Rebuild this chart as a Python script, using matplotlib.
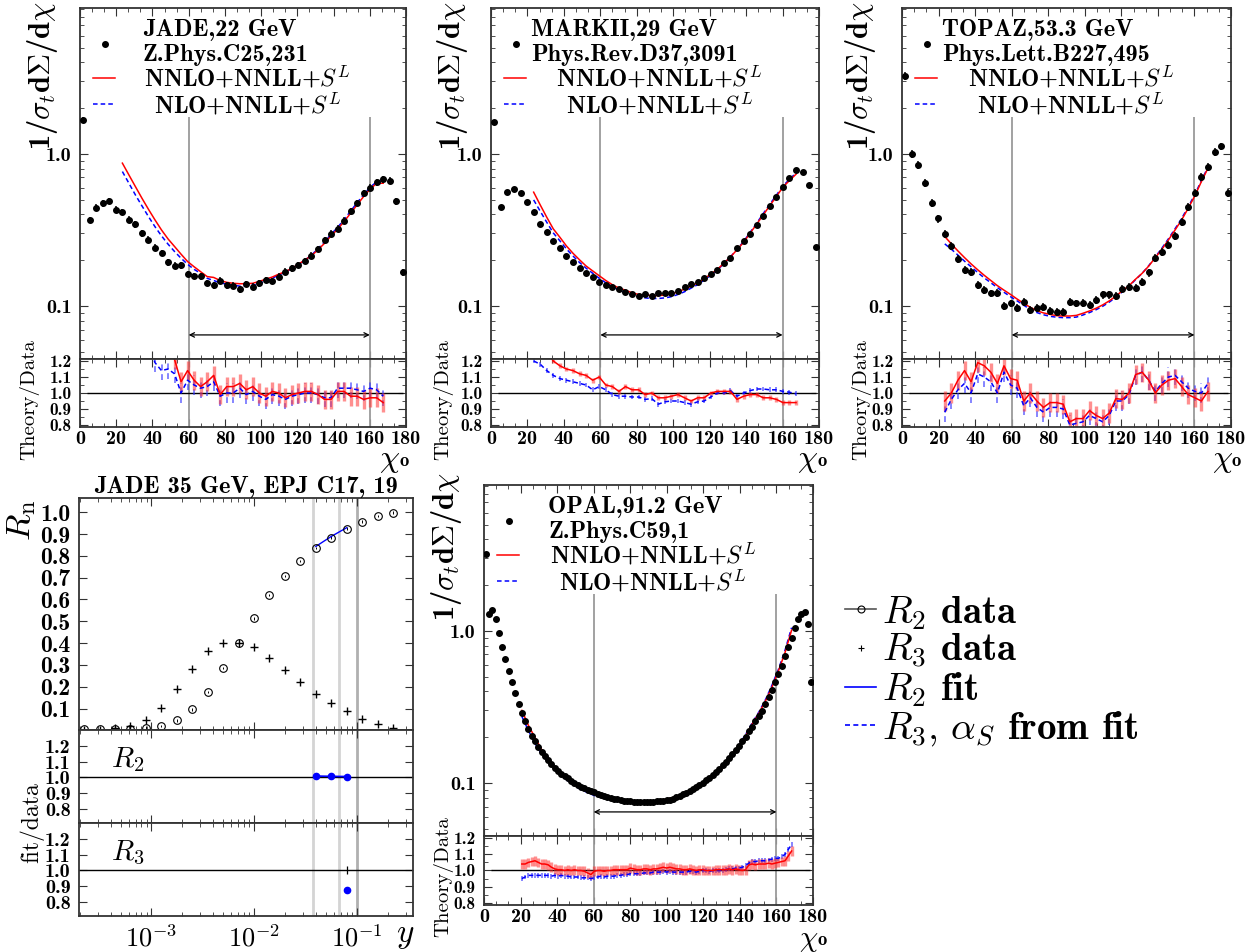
import numpy as np
import matplotlib
matplotlib.use("Agg")
import matplotlib.pyplot as plt
from matplotlib.lines import Line2D
from matplotlib.ticker import (MultipleLocator, FixedLocator, LogLocator,
                               FuncFormatter, NullFormatter)

plt.rcParams['font.family'] = ['cmb10']
plt.rcParams['mathtext.fontset'] = 'cm'
plt.rcParams['axes.unicode_minus'] = False

# ---------------------------------------------------------------- data
# energy-energy correlation, 3.6 deg bins (JADE 22, MARKII 29, TOPAZ 53.3)
bins_36 = np.linspace(1.8, 178.2, 50)
theory_bins_36 = np.linspace(23.4, 167.4, 41)

jade22_data = [1.67, 0.368, 0.443, 0.474, 0.491, 0.430, 0.415, 0.370, 0.344, 0.301,
               0.273, 0.242, 0.223, 0.194, 0.184, 0.185, 0.162, 0.158, 0.157, 0.142,
               0.137, 0.147, 0.137, 0.136, 0.129, 0.140, 0.134, 0.141, 0.148, 0.146,
               0.156, 0.168, 0.177, 0.186, 0.198, 0.214, 0.237, 0.270, 0.299, 0.323,
               0.364, 0.420, 0.476, 0.551, 0.600, 0.651, 0.681, 0.668, 0.489, 0.166]
jade22_nnlo = [0.869, 0.727, 0.609, 0.511, 0.432, 0.368, 0.316, 0.276, 0.246, 0.219,
               0.196, 0.181, 0.168, 0.156, 0.154, 0.147, 0.143, 0.141, 0.140, 0.140,
               0.141, 0.145, 0.150, 0.155, 0.162, 0.168, 0.177, 0.188, 0.201, 0.214,
               0.234, 0.258, 0.289, 0.319, 0.359, 0.407, 0.462, 0.524, 0.586, 0.641,
               0.641]
jade22_nlo = [0.765, 0.641, 0.537, 0.455, 0.387, 0.332, 0.289, 0.255, 0.228, 0.206,
              0.188, 0.174, 0.164, 0.152, 0.147, 0.142, 0.139, 0.137, 0.135, 0.135,
              0.137, 0.140, 0.147, 0.152, 0.160, 0.167, 0.176, 0.187, 0.200, 0.216,
              0.238, 0.264, 0.296, 0.328, 0.370, 0.420, 0.477, 0.540, 0.604, 0.655,
              0.668]
jade22_ratio_nnlo = [2.09, 1.96, 1.77, 1.70, 1.58, 1.52, 1.42, 1.30, 1.21, 1.07,
                     1.14, 1.08, 1.04, 1.07, 1.11, 0.99, 1.04, 1.04, 1.06, 1.02,
                     1.04, 1.00, 0.98, 1.01, 1.00, 0.97, 0.99, 1.00, 1.01, 1.01,
                     0.99, 0.96, 0.96, 1.01, 1.01, 0.98, 0.98, 0.96, 0.97, 0.97,
                     0.94]
jade22_ratio_nlo = [1.84, 1.73, 1.56, 1.45, 1.30, 1.19, 1.14, 1.15, 1.12, 1.00,
                    1.08, 1.05, 1.03, 1.04, 1.07, 0.98, 1.00, 1.00, 1.03, 0.99,
                    1.01, 0.98, 0.96, 0.99, 0.98, 0.96, 0.98, 0.99, 1.00, 1.00,
                    0.99, 0.97, 0.97, 1.03, 1.03, 1.03, 1.02, 1.01, 1.03, 1.02,
                    0.98]

markii_data = [1.63, 0.450, 0.562, 0.586, 0.557, 0.486, 0.415, 0.344, 0.305, 0.268,
               0.241, 0.214, 0.194, 0.179, 0.165, 0.156, 0.143, 0.137, 0.133, 0.129,
               0.123, 0.120, 0.117, 0.119, 0.116, 0.122, 0.121, 0.121, 0.125, 0.133,
               0.139, 0.143, 0.153, 0.162, 0.173, 0.191, 0.208, 0.242, 0.268, 0.299,
               0.340, 0.391, 0.457, 0.524, 0.609, 0.699, 0.781, 0.762, 0.628, 0.243]
markii_nnlo = [0.560, 0.462, 0.383, 0.321, 0.283, 0.248, 0.222, 0.201, 0.183, 0.170,
               0.158, 0.147, 0.138, 0.131, 0.127, 0.122, 0.119, 0.118, 0.117, 0.117,
               0.118, 0.120, 0.124, 0.129, 0.135, 0.142, 0.151, 0.162, 0.174, 0.191,
               0.210, 0.234, 0.262, 0.301, 0.345, 0.397, 0.457, 0.524, 0.604, 0.668,
               0.735]
markii_nlo = [0.498, 0.420, 0.355, 0.302, 0.268, 0.237, 0.213, 0.193, 0.177, 0.164,
              0.152, 0.142, 0.134, 0.127, 0.122, 0.118, 0.115, 0.113, 0.112, 0.112,
              0.113, 0.115, 0.119, 0.124, 0.131, 0.138, 0.148, 0.159, 0.172, 0.190,
              0.210, 0.236, 0.265, 0.305, 0.350, 0.405, 0.466, 0.535, 0.615, 0.680,
              0.750]
markii_ratio_nnlo = [1.35, 1.34, 1.26, 1.20, 1.17, 1.15, 1.14, 1.12, 1.11, 1.08,
                     1.10, 1.05, 1.04, 1.01, 1.04, 1.02, 1.02, 0.99, 1.00, 0.97,
                     0.97, 0.98, 0.99, 0.97, 0.95, 0.97, 0.97, 1.00, 1.01, 1.01,
                     1.01, 0.96, 0.98, 0.99, 0.99, 0.97, 0.97, 0.96, 0.94, 0.94,
                     0.94]
markii_ratio_nlo = [1.20, 1.18, 1.14, 1.11, 1.09, 1.08, 1.07, 1.06, 1.05, 1.02,
                    1.04, 1.02, 0.99, 0.98, 0.98, 0.975, 0.975, 0.96, 0.965, 0.93,
                    0.945, 0.95, 0.95, 0.94, 0.93, 0.945, 0.95, 0.975, 1.00, 1.00,
                    1.015, 0.98, 1.00, 1.015, 1.025, 1.025, 1.02, 1.02, 1.01, 1.005,
                    0.995]

topaz_data = [3.26, 0.995, 0.843, 0.641, 0.474, 0.376, 0.298, 0.248, 0.203, 0.173,
              0.167, 0.137, 0.127, 0.121, 0.122, 0.1005, 0.104, 0.0975, 0.106, 0.094,
              0.0975, 0.099, 0.0927, 0.0918, 0.0914, 0.106, 0.104, 0.1047, 0.1016, 0.1095,
              0.119, 0.119, 0.117, 0.129, 0.134, 0.132, 0.143, 0.166, 0.207, 0.226,
              0.252, 0.289, 0.359, 0.450, 0.557, 0.702, 0.825, 1.03, 1.12, 0.554]
topaz_nnlo = [0.286, 0.256, 0.230, 0.208, 0.189, 0.173, 0.159, 0.147, 0.136, 0.127,
              0.119, 0.111, 0.104, 0.098, 0.093, 0.090, 0.088, 0.0863, 0.0859, 0.0859,
              0.0867, 0.0895, 0.0927, 0.0966, 0.1016, 0.108, 0.116, 0.126, 0.136, 0.150,
              0.164, 0.183, 0.208, 0.236, 0.272, 0.316, 0.368, 0.439, 0.529, 0.657,
              0.805]
topaz_nlo = [0.256, 0.236, 0.216, 0.197, 0.181, 0.166, 0.153, 0.142, 0.132, 0.123,
             0.115, 0.108, 0.101, 0.095, 0.0905, 0.0875, 0.0855, 0.0843, 0.0838, 0.0838,
             0.0845, 0.0872, 0.0905, 0.0945, 0.0995, 0.106, 0.114, 0.124, 0.135, 0.149,
             0.164, 0.184, 0.210, 0.240, 0.277, 0.322, 0.376, 0.449, 0.540, 0.668,
             0.818]
topaz_ratio_nnlo = [0.95, 1.00, 1.08, 1.14, 1.07, 1.19, 1.17, 1.13, 1.06, 1.17,
                    1.09, 1.08, 0.95, 1.00, 0.95, 0.91, 0.94, 0.94, 0.93, 0.82,
                    0.84, 0.84, 0.89, 0.86, 0.84, 0.875, 0.965, 0.96, 1.00, 1.115,
                    1.13, 1.08, 1.00, 1.05, 1.08, 1.09, 1.04, 0.99, 0.97, 0.95,
                    1.01]
topaz_ratio_nlo = [0.88, 0.96, 1.02, 1.06, 1.00, 1.12, 1.10, 1.07, 1.00, 1.13,
                   1.05, 1.03, 0.92, 0.97, 0.91, 0.88, 0.91, 0.91, 0.90, 0.80,
                   0.81, 0.82, 0.86, 0.84, 0.82, 0.86, 0.95, 0.95, 0.99, 1.11,
                   1.13, 1.08, 1.01, 1.06, 1.10, 1.11, 1.07, 1.03, 1.01, 1.00,
                   1.06]

# OPAL 91.2 GeV, 1.8 deg bins
bins_18 = np.linspace(0.9, 179.1, 100)
opal_theory_bins = np.linspace(20.7, 168.3, 42)
opal_ratio_bins = np.linspace(20.7, 168.3, 83)

opal_data = [3.2, 1.29, 1.37, 1.19, 0.966, 0.789, 0.656, 0.547, 0.459, 0.389,
             0.331, 0.288, 0.255, 0.228, 0.205, 0.188, 0.172, 0.160, 0.150, 0.141,
             0.133, 0.126, 0.120, 0.115, 0.1106, 0.107, 0.103, 0.100, 0.097, 0.0947,
             0.0925, 0.0905, 0.0885, 0.0866, 0.0850, 0.0835, 0.0822, 0.0810, 0.0799, 0.0789,
             0.0780, 0.0772, 0.0766, 0.0760, 0.0756, 0.0753, 0.0751, 0.0750, 0.0750, 0.0751,
             0.0752, 0.0754, 0.0757, 0.0760, 0.0765, 0.0771, 0.0778, 0.0790, 0.0805, 0.0822,
             0.0844, 0.0865, 0.0887, 0.0914, 0.0942, 0.0971, 0.1006, 0.1042, 0.1084, 0.1135,
             0.118, 0.124, 0.131, 0.137, 0.145, 0.154, 0.164, 0.176, 0.188, 0.202,
             0.218, 0.235, 0.254, 0.275, 0.299, 0.331, 0.366, 0.409, 0.459, 0.520,
             0.590, 0.679, 0.778, 0.904, 1.04, 1.19, 1.30, 1.33, 1.11, 0.459]
opal_nnlo = [0.300, 0.239, 0.199, 0.166, 0.146, 0.127, 0.1156, 0.1075, 0.1005, 0.0947,
             0.0891, 0.0862, 0.0835, 0.0810, 0.0793, 0.0776, 0.0764, 0.0761, 0.0754, 0.0759,
             0.0762, 0.0771, 0.0783, 0.0802, 0.0830, 0.0869, 0.0919, 0.0976, 0.1042, 0.1135,
             0.1246, 0.1377, 0.1548, 0.1769, 0.203, 0.244, 0.286, 0.344, 0.425, 0.546,
             0.720, 1.012]
opal_nlo = [0.274, 0.221, 0.182, 0.155, 0.137, 0.122, 0.1116, 0.1033, 0.0960, 0.0904,
            0.0864, 0.0827, 0.0806, 0.0782, 0.0761, 0.0749, 0.0741, 0.0738, 0.0735, 0.0740,
            0.0746, 0.0752, 0.0763, 0.0782, 0.0814, 0.0856, 0.0909, 0.0966, 0.1042, 0.1135,
            0.124, 0.1377, 0.1555, 0.1786, 0.208, 0.248, 0.2915, 0.351, 0.438, 0.559,
            0.747, 1.049]
opal_ratio_nnlo = [1.04, 1.04, 1.05, 1.055, 1.06, 1.05, 1.04, 1.04, 1.035, 1.02,
                   1.01, 1.005, 1.005, 1.0, 1.005, 1.0, 1.005, 1.0, 1.0, 0.995,
                   0.985, 0.975, 0.995, 1.0, 1.0, 0.995, 1.0, 1.0, 1.005, 1.005,
                   1.005, 1.005, 1.005, 1.015, 1.01, 1.005, 1.005, 1.01, 1.01, 1.005,
                   1.01, 1.01, 1.015, 1.02, 1.015, 1.02, 1.015, 1.01, 1.01, 1.005,
                   1.005, 1.01, 1.005, 1.0, 1.005, 1.005, 1.0, 1.0, 1.0, 1.005,
                   1.005, 1.005, 1.005, 1.01, 1.005, 1.01, 1.005, 1.0, 1.005, 1.035,
                   1.04, 1.035, 1.04, 1.04, 1.04, 1.045, 1.04, 1.045, 1.05, 1.055,
                   1.06, 1.09, 1.12]
opal_ratio_nlo = [0.95, 0.96, 0.97, 0.97, 0.97, 0.97, 0.97, 0.97, 0.97, 0.965,
                  0.97, 0.965, 0.97, 0.965, 0.965, 0.96, 0.96, 0.96, 0.955, 0.955,
                  0.955, 0.95, 0.955, 0.96, 0.965, 0.96, 0.965, 0.965, 0.965, 0.97,
                  0.97, 0.975, 0.975, 0.98, 0.98, 0.98, 0.98, 0.985, 0.985, 0.985,
                  0.99, 0.99, 0.99, 0.995, 0.99, 0.995, 0.99, 0.99, 0.99, 0.99,
                  0.99, 0.995, 0.995, 0.99, 0.995, 1.0, 1.0, 0.995, 1.0, 1.0,
                  1.0, 1.0, 1.005, 1.01, 1.01, 1.015, 1.015, 1.02, 1.03, 1.045,
                  1.055, 1.055, 1.06, 1.06, 1.06, 1.065, 1.07, 1.075, 1.075, 1.085,
                  1.10, 1.13, 1.16]

fit_range = (60, 160)

# JADE 35 GeV jet rates
jade35_ycut = [0.000221, 0.000313, 0.000442, 0.000625, 0.000884, 0.00125, 0.00177,
               0.0025, 0.00354, 0.005, 0.00707, 0.01, 0.0141, 0.02, 0.0283, 0.04,
               0.0566, 0.08, 0.113, 0.16, 0.226]
r2_data = [0.005, 0.005, 0.007, 0.008, 0.013, 0.020, 0.046, 0.097, 0.176, 0.286,
           0.401, 0.514, 0.620, 0.707, 0.777, 0.836, 0.884, 0.924, 0.956, 0.982, 0.998]
r3_data = [0.002, 0.004, 0.009, 0.020, 0.050, 0.103, 0.189, 0.282, 0.364, 0.399,
           0.402, 0.381, 0.331, 0.276, 0.222, 0.169, 0.124, 0.088, 0.054, 0.030, 0.013]
r2_fit_ycut = [0.04, 0.0566, 0.08]
r2_fit = [0.843, 0.889, 0.929]
r2_fit_ratio = [1.008, 1.006, 1.005]
r3_fit_ycut = [0.08]
r3_fit = [0.077]
r3_fit_ratio = [0.875]
r3_data_rel_err = [0.025]
ycut_lines = [0.0378, 0.0677, 0.1]

# ---------------------------------------------------------------- figure
W, H = 1258, 952
fig = plt.figure(figsize=(W / 100, H / 100), dpi=100)


def px_axes(x0, y0, x1, y1):
    return fig.add_axes([x0 / W, 1 - y1 / H, (x1 - x0) / W, (y1 - y0) / H])


def fig_text(x, y, s, **kw):
    return fig.text(x / W, 1 - y / H, s, **kw)


def style(ax, size=14.5):
    for sp in ax.spines.values():
        sp.set_linewidth(1.3)
        sp.set_color('#333333')
    ax.tick_params(which='both', direction='in', top=True, right=True,
                   color='#333333', labelsize=size)
    ax.tick_params(which='major', length=6, width=0.8, pad=3)
    ax.tick_params(which='minor', length=3, width=0.6)


one_dec = FuncFormatter(lambda v, p: f'{v:.1f}')
KEY_SIZE = 17.5


def chi_panel(main_box, ratio_box, label, label_x, data, err, nnlo, nlo,
              r_nnlo, r_nlo, r_err, bins, tbins, rbins):
    ax = px_axes(*main_box)
    rx = px_axes(*ratio_box)
    for a in (ax, rx):
        style(a)
        a.set_xlim(0, 180)
        a.xaxis.set_major_locator(MultipleLocator(20))
        a.xaxis.set_minor_locator(MultipleLocator(20 / 3))

    ax.set_yscale('log')
    ax.set_ylim(0.0448, 9.1)
    ax.yaxis.set_major_locator(FixedLocator([0.1, 1.0]))
    ax.yaxis.set_major_formatter(one_dec)
    ax.yaxis.set_minor_locator(LogLocator(subs=np.arange(2, 10)))
    ax.yaxis.set_minor_formatter(NullFormatter())
    ax.tick_params(labelbottom=False, pad=6)

    ax.vlines(fit_range, 0.0448, 1.75, colors='#9a9a9a', lw=1.3)
    ax.annotate('', xy=(fit_range[1], 0.0645), xytext=(fit_range[0], 0.0645),
                arrowprops=dict(arrowstyle='<->', color='black', lw=0.9,
                                shrinkA=0, shrinkB=0, mutation_scale=8))
    ax.plot(tbins, nlo, color='blue', lw=1.1, ls=(0, (3, 2)))
    ax.plot(tbins, nnlo, color='red', lw=1.1)
    d = np.asarray(data)
    ax.errorbar(bins, d, yerr=d * err[0], fmt='o', ms=4.0, color='black',
                elinewidth=1.1, capsize=0, zorder=5)

    # key: data marker with a two-line caption, then the two predictions
    tr = ax.transAxes
    ax.plot([0.077], [0.897], 'o', ms=4.0, color='black', transform=tr)
    for line, yb in zip(label, (0.920, 0.850)):
        ax.text(label_x, yb, line, transform=tr, ha='left', va='baseline',
                fontsize=KEY_SIZE)
    ax.plot([0.04, 0.107], [0.800, 0.800], color='red', lw=1.1, transform=tr)
    ax.text(0.514, 0.777, r'NNLO+NNLL+$S^L$', transform=tr,
            ha='center', va='baseline', fontsize=KEY_SIZE)
    ax.plot([0.04, 0.107], [0.726, 0.726], color='blue', lw=1.1,
            ls=(0, (3, 2)), transform=tr)
    ax.text(0.514, 0.700, r'NLO+NNLL+$S^L$', transform=tr,
            ha='center', va='baseline', fontsize=KEY_SIZE)

    # ratio
    rx.set_ylim(0.7875, 1.2125)
    rx.yaxis.set_major_locator(FixedLocator([0.8, 0.9, 1.0, 1.1, 1.2]))
    rx.yaxis.set_major_formatter(one_dec)
    rx.yaxis.set_minor_locator(MultipleLocator(0.05))
    rx.tick_params(axis='y', pad=6, labelsize=12.5)
    rx.tick_params(axis='x', pad=2)
    for xv in fit_range:
        rx.axvline(xv, color='#9a9a9a', lw=1.3)
    rx.hlines(1.0, 3.6, 178.2, colors='black', lw=1.0)
    eb = rx.errorbar(rbins, r_nlo, yerr=r_err[1], color='blue', lw=1.1,
                     ls=(0, (3, 2)), elinewidth=1.4, ecolor=(0.2, 0.2, 1, 0.6),
                     capsize=0)
    eb[2][0].set_linestyle((0, (3, 2)))
    rx.errorbar(rbins, r_nnlo, yerr=r_err[0], color='red', lw=1.1,
                elinewidth=2.4, ecolor=(1, 0.2, 0.2, 0.55), capsize=0)
    return ax, rx


panels = [
    ((80, 8, 406, 359), (80, 359, 406, 427),
     ('JADE,22 GeV', 'Z.Phys.C25,231'), 0.193, jade22_data, (0.05,),
     jade22_nnlo, jade22_nlo, jade22_ratio_nnlo, jade22_ratio_nlo, (0.06, 0.06),
     bins_36, theory_bins_36, theory_bins_36),
    ((491, 8, 819, 359), (491, 359, 819, 427),
     ('MARKII,29 GeV', 'Phys.Rev.D37,3091'), 0.122, markii_data, (0.012,),
     markii_nnlo, markii_nlo, markii_ratio_nnlo, markii_ratio_nlo, (0.015, 0.015),
     bins_36, theory_bins_36, theory_bins_36),
    ((902, 8, 1231, 359), (902, 359, 1231, 427),
     ('TOPAZ,53.3 GeV', 'Phys.Lett.B227,495'), 0.121, topaz_data, (0.06,),
     topaz_nnlo, topaz_nlo, topaz_ratio_nnlo, topaz_ratio_nlo, (0.06, 0.06),
     bins_36, theory_bins_36, theory_bins_36),
    ((484, 485, 813, 836), (484, 836, 813, 905),
     ('OPAL,91.2 GeV', 'Z.Phys.C59,1'), 0.195, opal_data, (0.012,),
     opal_nnlo, opal_nlo, opal_ratio_nnlo, opal_ratio_nlo, (0.03, 0.015),
     bins_18, opal_theory_bins, opal_ratio_bins),
]
for p in panels:
    chi_panel(*p)

# axis titles for the EEC panels
ylab = r'1/$\sigma_t$d$\Sigma$/d$\chi$'
for x, y in [(42, 1), (452, 1), (861, 1), (446, 472)]:
    fig_text(x, y, ylab, rotation=90, ha='center', va='top', fontsize=22)
for x, y in [(29, 400), (443, 400), (861, 400), (443, 877)]:
    fig_text(x, y, 'Theory/Data', rotation=90, ha='center', va='center',
             fontsize=15, family='cmr10')
for x, y, fs in [(400, 467, 23), (818, 467, 23), (1233, 467, 23), (818, 946, 21)]:
    fig_text(x, y, r'$\chi$', ha='right', va='baseline', fontsize=fs)
    fig_text(x - 1, y - 6, 'o', ha='left', va='center', fontsize=13.5)

# ---------------------------------------------------------------- jet rates
ax4 = px_axes(79, 498, 413, 730)
r2x = px_axes(79, 730, 413, 823)
r3x = px_axes(79, 823, 413, 916)
for a in (ax4, r2x, r3x):
    style(a)
    a.set_xscale('log')
    a.set_xlim(1.97e-4, 0.354)
    a.xaxis.set_minor_locator(LogLocator(subs=np.arange(2, 10)))
    a.xaxis.set_minor_formatter(NullFormatter())
    for i, xv in enumerate(ycut_lines):
        a.axvline(xv, color='#b0b0b0' if i == 2 else '#d4d4d4', lw=2.0, zorder=0)
    a.tick_params(labelbottom=False)
r3x.tick_params(labelbottom=True, labelsize=19, pad=6)
r3x.xaxis.set_major_formatter(
    FuncFormatter(lambda v, p: r'$\mathbf{10^{%d}}$' % round(np.log10(v))))

ax4.set_ylim(0.002, 1.065)
ax4.yaxis.set_major_locator(FixedLocator(np.round(np.arange(0.1, 1.01, 0.1), 1)))
ax4.yaxis.set_major_formatter(one_dec)
ax4.tick_params(axis='y', labelsize=17, pad=6)
ax4.errorbar(jade35_ycut, r2_data, yerr=0.006, fmt='o', ms=5.5, mfc='none',
             mec='black', mew=0.8, ecolor='black', elinewidth=0.7, capsize=0)
ax4.plot(jade35_ycut, r3_data, '+', color='black', ms=6, mew=1.0)
ax4.plot(r2_fit_ycut, r2_fit, color='blue', lw=1.0)
ax4.plot(r3_fit_ycut, r3_fit, color='blue', lw=1.0, ls=(0, (3, 2)))
ax4.set_title('JADE 35 GeV, EPJ C17, 19', fontsize=17.5, pad=3)

for a, lab in ((r2x, r'$R_{\mathbf{2}}$'), (r3x, r'$R_{\mathbf{3}}$')):
    a.set_ylim(0.71, 1.30)
    a.yaxis.set_major_locator(FixedLocator([0.8, 0.9, 1.0, 1.1, 1.2]))
    a.yaxis.set_major_formatter(one_dec)
    a.tick_params(axis='y', labelsize=14.5, pad=6)
    a.axhline(1.0, color='black', lw=1.0)
    a.text(0.146, 0.68, lab, transform=a.transAxes, ha='center', va='center',
           fontsize=21)
r2x.plot(r2_fit_ycut, r2_fit_ratio, 'o-', color='blue', ms=4.5, lw=1.2)
r3x.errorbar(r3_fit_ycut, [1.0], yerr=r3_data_rel_err, fmt='none',
             ecolor='black', elinewidth=0.9)
r3x.plot(r3_fit_ycut, r3_fit_ratio, 'o', color='blue', ms=4.5)

fig_text(22, 500, r'$R_{\mathrm{n}}$', rotation=90, ha='center', va='top',
         fontsize=25)
fig_text(32, 823, 'fit/data', rotation=90, ha='center', va='center',
         fontsize=17, family='cmr10')
fig_text(414, 942, r'$y$', ha='right', va='baseline', fontsize=24)

handles = [
    Line2D([], [], color='#555555', lw=1.2, marker='o', ms=5, mfc='none',
           mec='black', mew=0.8),
    Line2D([], [], ls='none', marker='+', color='black', ms=5, mew=0.8),
    Line2D([], [], color='blue', lw=1.2),
    Line2D([], [], color='blue', lw=1.2, ls=(0, (3, 2))),
]
labels = [r'$R_{\mathbf{2}}$ data', r'$R_{\mathbf{3}}$ data', r'$R_{\mathbf{2}}$ fit',
          r'$R_{\mathbf{3}},\,\alpha_S$ from fit']
fig.legend(handles, labels, loc='upper left', bbox_to_anchor=(0.672, 0.376),
           frameon=False, fontsize=28, handlelength=0.8, handletextpad=0.15,
           labelspacing=0.0, borderpad=0, borderaxespad=0)

fig.savefig('out.png', dpi=100)
